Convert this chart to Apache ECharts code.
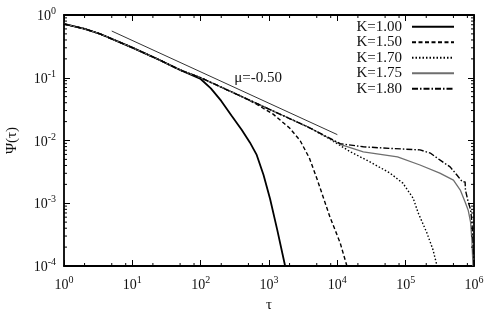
<!DOCTYPE html>
<html><head><meta charset="utf-8">
<script src="https://cdn.jsdelivr.net/npm/echarts@6/dist/echarts.min.js"></script>
<style>html,body{margin:0;padding:0;background:#fff}#c{width:490px;height:315px}</style>
</head><body><div id="c"></div>
<script>
// ---- data ----
const seriesNames = ['K=1.00', 'K=1.50', 'K=1.70', 'K=1.75', 'K=1.80'];
const tauK100 = [1, 2, 3.4, 10, 25, 50, 100, 141, 200, 282, 398, 525, 661, 832, 1038, 1318, 1722];
const psiK100 = [0.719, 0.603, 0.498, 0.302, 0.192, 0.133, 0.0955, 0.0676, 0.0427, 0.0251, 0.0148, 0.00933, 0.00589, 0.00282, 0.00117, 0.00038, 0.0001];
const tauK150 = [1, 2, 3.4, 10, 25, 50, 100, 200, 400, 630, 1150, 2000, 2850, 3900, 5000, 7800, 11000, 13800];
const psiK150 = [0.719, 0.603, 0.498, 0.302, 0.192, 0.133, 0.1, 0.0708, 0.0501, 0.0389, 0.0263, 0.0158, 0.01, 0.00525, 0.00251, 0.000603, 0.000234, 0.0001];
const tauK170 = [1, 2, 3.4, 10, 25, 50, 100, 200, 400, 1000, 2000, 4000, 7800, 15500, 30000, 59000, 91000, 129000, 152000, 204000, 251000, 288000];
const psiK170 = [0.719, 0.603, 0.498, 0.302, 0.192, 0.133, 0.1, 0.0708, 0.0501, 0.0316, 0.0224, 0.0158, 0.0105, 0.00661, 0.00457, 0.00302, 0.00209, 0.0012, 0.000708, 0.000339, 0.000182, 0.0001];
const tauK175 = [1, 2, 3.4, 10, 25, 50, 100, 200, 400, 1000, 2000, 4000, 11000, 24000, 76000, 162000, 316000, 500000, 630000, 741000, 822000, 891000, 933000, 966000];
const psiK175 = [0.719, 0.603, 0.498, 0.302, 0.192, 0.133, 0.1, 0.0708, 0.0501, 0.0316, 0.0224, 0.0158, 0.0087, 0.0066, 0.0055, 0.00407, 0.00302, 0.00234, 0.00162, 0.00105, 0.000776, 0.000501, 0.000251, 0.0001];
const tauK180 = [1, 2, 3.4, 10, 25, 50, 100, 200, 400, 1000, 2000, 4000, 11000, 24000, 47000, 162000, 229000, 316000, 447000, 562000, 676000, 741000, 750000, 822000, 891000, 933000, 966000, 1000000];
const psiK180 = [0.719, 0.603, 0.498, 0.302, 0.192, 0.133, 0.1, 0.0708, 0.0501, 0.0316, 0.0224, 0.0158, 0.0089, 0.00794, 0.00759, 0.00708, 0.00631, 0.0049, 0.0038, 0.00282, 0.00219, 0.00219, 0.00162, 0.00105, 0.000794, 0.000501, 0.000251, 0.0001];
const refTau = [5, 10000];
const refPsi = [0.555, 0.0124];
const refLabel = 'μ=-0.50';
const refLabelTau = 692;
const refLabelPsi = 0.099;
const xMin = 1, xMax = 1e6, yMin = 1e-4, yMax = 1;
const xMinorTicks = [2,5,8, 20,50,80, 200,500,800, 2000,5000,8000, 20000,50000,80000, 200000,500000,800000];
const yMinorTicks = [2e-4,3e-4,4e-4,5e-4,6e-4,7e-4,8e-4,9e-4, 2e-3,3e-3,4e-3,5e-3,6e-3,7e-3,8e-3,9e-3, 2e-2,3e-2,4e-2,5e-2,6e-2,7e-2,8e-2,9e-2, 0.2,0.3,0.4,0.5,0.6,0.7,0.8,0.9];
const xName = 'τ', yName = 'Ψ(τ)';

// ---- chart ----
const FONT = 'Liberation Serif';
const zip = (a, b) => a.map((v, i) => [v, b[i]]);
const supRich = {
  b: {fontSize: 14, fontFamily: FONT, color: '#111', lineHeight: 17, verticalAlign: 'bottom'},
  s: {fontSize: 10, fontFamily: FONT, color: '#111', lineHeight: 10, verticalAlign: 'top'}
};
const powFmt = v => '{b|10}{s|' + Math.round(Math.log10(v)) + '}';
const lineStyles = [
  {color: '#000', width: 1.8, type: 'solid'},
  {color: '#000', width: 1.4, type: [4, 2.5]},
  {color: '#000', width: 1.4, type: [1.5, 2]},
  {color: '#6e6e6e', width: 1.3, type: 'solid'},
  {color: '#000', width: 1.4, type: [6, 2, 1.5, 2]}
];
const dataSets = [zip(tauK100, psiK100), zip(tauK150, psiK150), zip(tauK170, psiK170), zip(tauK175, psiK175), zip(tauK180, psiK180)];
const MINOR = 3;
function minorTickSeries(values, dim) {
  return {
    type: 'custom', silent: true, clip: false, z: 5,
    data: values.map(v => dim === 'x' ? [v, yMin] : [xMin, v]),
    renderItem(params, api) {
      const st = {stroke: '#000', lineWidth: 1};
      if (dim === 'x') {
        const v = api.value(0);
        const a = api.coord([v, yMin]), b = api.coord([v, yMax]);
        return {type: 'group', children: [
          {type: 'line', shape: {x1: a[0], y1: a[1], x2: a[0], y2: a[1] - MINOR}, style: st},
          {type: 'line', shape: {x1: b[0], y1: b[1], x2: b[0], y2: b[1] + MINOR}, style: st}]};
      } else {
        const v = api.value(1);
        const a = api.coord([xMin, v]), b = api.coord([xMax, v]);
        return {type: 'group', children: [
          {type: 'line', shape: {x1: a[0], y1: a[1], x2: a[0] + MINOR, y2: a[1]}, style: st},
          {type: 'line', shape: {x1: b[0], y1: b[1], x2: b[0] - MINOR, y2: b[1]}, style: st}]};
      }
    }
  };
}
const axisLine = {show: true, lineStyle: {color: '#000', width: 1.8}};
const majorTick = {show: true, inside: true, length: 6, lineStyle: {color: '#000', width: 1}};
const option = {
  animation: false,
  backgroundColor: '#fff',
  textStyle: {fontFamily: FONT},
  grid: {left: 64, right: 16, top: 15, bottom: 49, containLabel: false, outerBoundsMode: 'none'},
  legend: {
    data: seriesNames, orient: 'vertical', right: 35, top: 19, padding: 0,
    align: 'right', itemWidth: 42, itemHeight: 10, itemGap: 0,
    itemStyle: {color: 'transparent', borderWidth: 0, opacity: 0},
    textStyle: {fontFamily: FONT, fontSize: 15, color: '#111', lineHeight: 15.5, padding: [0, 5, 0, 0]}
  },
  xAxis: [
    {type: 'log', logBase: 10, min: xMin, max: xMax, position: 'bottom',
     name: xName, nameLocation: 'middle', nameGap: 32,
     nameTextStyle: {fontFamily: FONT, fontSize: 15, color: '#111'},
     axisLine, axisTick: majorTick, splitLine: {show: false}, minorTick: {show: false},
     axisLabel: {formatter: powFmt, rich: supRich, margin: 9}},
    {type: 'log', logBase: 10, min: xMin, max: xMax, position: 'top',
     axisLine, axisTick: majorTick, splitLine: {show: false}, axisLabel: {show: false}}
  ],
  yAxis: [
    {type: 'log', logBase: 10, min: yMin, max: yMax, position: 'left',
     name: yName, nameLocation: 'middle', nameGap: 44, nameRotate: 90,
     nameTextStyle: {fontFamily: FONT, fontSize: 15, color: '#111'},
     axisLine, axisTick: majorTick, splitLine: {show: false},
     axisLabel: {formatter: powFmt, rich: supRich, margin: 8}},
    {type: 'log', logBase: 10, min: yMin, max: yMax, position: 'right',
     axisLine, axisTick: majorTick, splitLine: {show: false}, axisLabel: {show: false}}
  ],
  series: [
    ...seriesNames.map((n, i) => ({
      name: n, type: 'line', data: dataSets[i], symbol: 'none', showSymbol: false,
      lineStyle: lineStyles[i], itemStyle: {color: lineStyles[i].color}, z: 3
    })),
    {name: 'ref', type: 'line', data: zip(refTau, refPsi), symbol: 'none',
     lineStyle: {color: '#333', width: 1}, z: 2, silent: true},
    minorTickSeries(xMinorTicks, 'x'),
    minorTickSeries(yMinorTicks, 'y')
  ]
};
const chart = echarts.init(document.getElementById('c'), null, {renderer: 'canvas'});
chart.setOption(option);
const lp = chart.convertToPixel({gridIndex: 0}, [refLabelTau, refLabelPsi]);
chart.setOption({graphic: [{type: 'text', x: lp[0], y: lp[1], silent: true, z: 10,
  style: {text: refLabel, fontFamily: FONT, fontSize: 15, fill: '#111', align: 'center', verticalAlign: 'middle'}}]});
</script></body></html>
